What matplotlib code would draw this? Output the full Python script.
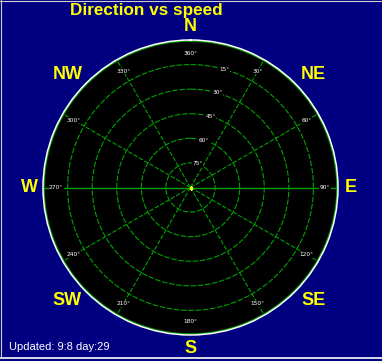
import numpy as np
import matplotlib
matplotlib.use("Agg")
import matplotlib.pyplot as plt
from matplotlib.lines import Line2D

# ---- data ----
title = "Direction vs speed"
footer = "Updated: 9:8 day:29"
compass_names = ["N", "NE", "E", "SE", "S", "SW", "W", "NW"]
compass_angles = [0, 45, 90, 135, 180, 225, 270, 315]
azimuth_lines = [30, 60, 120, 150, 210, 240, 300, 330]
azimuth_labels = [30, 60, 90, 120, 150, 180, 210, 240, 270, 300, 330, 360]
elevation_rings = [15, 30, 45, 60, 75]

NAVY = "#000080"
GREEN = "#00a000"
YELLOW = "#ffff00"

W, H = 382, 361
fig = plt.figure(figsize=(W / 100, H / 100), dpi=100, facecolor=NAVY)

cx, cy, R = 190.5, 187.5, 147.5
ax = fig.add_axes([(cx - R) / W, (H - cy - R) / H, 2 * R / W, 2 * R / H],
                  projection="polar", facecolor="black")
ax.set_theta_zero_location("N")
ax.set_theta_direction(-1)
ax.set_ylim(0, 90)
ax.grid(False)
ax.set_xticks([])
ax.set_yticks([])
ax.spines["polar"].set_color("white")
ax.spines["polar"].set_linewidth(1.1)

th = np.linspace(0, 2 * np.pi, 721)
# elevation rings (r = 90 - elevation)
for e in elevation_rings:
    ax.plot(th, np.full_like(th, 90 - e), color=GREEN, lw=0.8,
            ls=(0, (5, 1.5)))
# inner green edge of boundary
ax.plot(th, np.full_like(th, 89.3), color=GREEN, lw=0.9)

# radial dashed lines
for a in azimuth_lines:
    t = np.deg2rad(a)
    ax.plot([t, t], [0, 90], color=GREEN, lw=0.8, ls=(0, (4, 1.5)))
# solid W-E line
ax.plot([np.deg2rad(90), np.deg2rad(90)], [0, 90], color=GREEN, lw=1.0)
ax.plot([np.deg2rad(270), np.deg2rad(270)], [0, 90], color=GREEN, lw=1.0)
# centre dot
ax.plot([0], [0], marker="s", ms=2, color=YELLOW, mec=YELLOW)

# azimuth labels
for a in azimuth_labels:
    ax.text(np.deg2rad(a), 82, f"{a}°", color="white", fontsize=4.2,
            ha="center", va="center", family="DejaVu Sans",
            bbox=dict(facecolor="black", edgecolor="none", pad=0.3))

# elevation labels
for e in elevation_rings:
    ax.text(np.deg2rad(16), 90 - e, f"{e}°", color="white", fontsize=4.2,
            ha="center", va="center", family="DejaVu Sans",
            bbox=dict(facecolor="black", edgecolor="none", pad=0.3))

# compass labels (diagonals pushed slightly sideways, as in the original)
for name, a in zip(compass_names, compass_angles):
    if len(name) == 1:
        r, aa = 98, a
    else:
        shift = 2.5 if a in (45, 225) else -2.5
        r, aa = 102, a + shift
    ax.text(np.deg2rad(aa), r, name, color=YELLOW, fontsize=13,
            fontweight="bold", family="Liberation Sans",
            ha="center", va="center", clip_on=False)

fig.text(146 / W, 1 - 10.5 / H, title, color=YELLOW, fontsize=12.3,
         fontweight="bold", family="Liberation Sans",
         ha="center", va="center")
fig.text(9 / W, 1 - 347 / H, footer, color="white", fontsize=8,
         family="Liberation Sans", ha="left", va="center")

# window-like border
fig.add_artist(Line2D([0, 1], [1 - 357.5 / H] * 2, color="white", lw=1.2,
                      transform=fig.transFigure))
fig.add_artist(Line2D([0.5 / W] * 2, [1 - 357.5 / H, 1], color="#d0d0d0",
                      lw=0.8, transform=fig.transFigure))
fig.add_artist(Line2D([0, 1], [1 - 0.5 / H] * 2, color="#d0d0d0", lw=0.8,
                      transform=fig.transFigure))

fig.savefig("out.png", dpi=100, facecolor=NAVY)
